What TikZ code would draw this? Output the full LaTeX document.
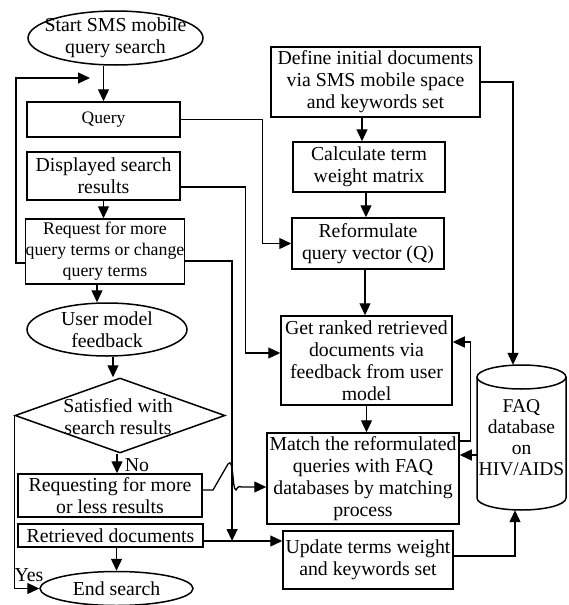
\documentclass[tikz,border=0pt]{standalone}
\usepackage{fontspec}
\setmainfont{Liberation Serif}
\usetikzlibrary{arrows.meta,shapes.geometric}
\begin{document}
\begin{tikzpicture}[x=1pt,y=-1pt,
  txt/.style={inner sep=0pt,align=center,font=\fontsize{19.8}{22}\selectfont},
  box/.style={txt,draw,line width=1.5pt,rectangle},
  oval/.style={draw,line width=1.5pt,ellipse,inner sep=0pt},
  arr/.style={line width=1.3pt,-{Triangle[length=12pt,width=11pt]}},
  ln/.style={line width=1.3pt}]
\path[use as bounding box] (0,0) rectangle (568,605);

% left column
\node[oval,minimum width=175pt,minimum height=54pt] (start) at (115.5,38) {};
\node[txt] (starttxt) at (start) {Start SMS mobile\\query search};
\node[box,minimum width=153pt,minimum height=35pt,font=\fontsize{17.5}{22}\selectfont] (query) at (103.5,119.5) {Query};
\node[box,minimum width=153pt,minimum height=48pt] (disp) at (103.5,176) {Displayed search\\results};
\node[box,minimum width=156pt,minimum height=65pt,font=\fontsize{17.8}{21}\selectfont] (req) at (105,251.5) {Request for more\\query terms or change\\query terms};
\node[oval,minimum width=160pt,minimum height=53pt] (umf) at (107,329.5) {};
\node[txt] (umftxt) at (umf) {User model\\feedback};
\node[draw,line width=1.5pt,diamond,inner sep=0pt,minimum width=210pt,minimum height=75pt] (sat) at (120,415.5) {};
\node[txt] (sattxt) at (118,417) {Satisfied with\\search results};
\node[box,minimum width=184pt,minimum height=43pt] (reqm) at (110,495.5) {Requesting for more\\or less results};
\node[box,minimum width=185pt,minimum height=23pt] (ret) at (110.5,535.5) {Retrieved documents};
\node[oval,minimum width=153pt,minimum height=34pt] (end) at (116.5,588.5) {};
\node[txt] (endtxt) at (end) {End search};

% right column
\node[box,minimum width=209pt,minimum height=70pt] (def) at (375.5,82) {Define initial documents\\via SMS mobile space\\and keywords set};
\node[box,minimum width=152pt,minimum height=50pt] (calc) at (369,167) {Calculate term\\weight matrix};
\node[box,minimum width=152pt,minimum height=51pt] (refq) at (368,243.5) {Reformulate\\query vector (Q)};
\node[box,minimum width=171pt,minimum height=89pt] (rank) at (366.5,360.5) {Get ranked retrieved\\documents via\\feedback from user\\model};
\node[box,minimum width=192pt,minimum height=91pt] (match) at (363,478.5) {Match the reformulated\\queries with FAQ\\databases by matching\\process};
\node[box,minimum width=170pt,minimum height=58pt] (upd) at (368,560) {Update terms weight\\and keywords set};

% database cylinder
\node[txt,minimum width=89pt,minimum height=145pt,font=\fontsize{19.5}{21}\selectfont] (db) at (521.5,437.5) {FAQ\\database\\on\\HIV/AIDS};
\draw[line width=1.5pt] (477,377) -- (477,498) arc[start angle=180,end angle=0,x radius=44.5,y radius=12] -- (566,377);
\draw[line width=1.5pt] (521.5,377) ellipse [x radius=44.5,y radius=12];

% labels
\node[txt] (no) at (137,465) {No};
\node[txt] (yes) at (29,575) {Yes};

% connectors
\coordinate (loopend) at (90,78);
\draw[arr] (start.south -| query.north) -- (query.north);
\draw[arr] ([yshift=-11.5pt]req.west) -- ++(-9,0) |- (loopend);
\draw[arr] (query.east) -- ++(82,0) |- (refq.west);
\draw[arr] (disp.south) -- (disp.south |- req.north);
\draw[arr] ([yshift=-11pt]disp.east) -- ++(65,0) |- ([yshift=7.5pt]rank.west);
\draw[arr] ([xshift=-8pt]req.south) -- ([xshift=-8pt]req.south |- umf.north);
\draw[arr] ([xshift=6pt]umf.south) -- ([xshift=6pt]umf.south |- sat.north);
\draw[arr] ([xshift=-3pt]sat.south) -- ([xshift=-3pt]sat.south |- reqm.north);
\draw[arr] (sat.west) |- (end.west);
\draw[arr] ([xshift=6pt]ret.south) -- ([xshift=6pt]ret.south |- end.north);
\coordinate (retline) at ([yshift=-5.5pt]ret.east);
\draw[arr] (retline) -- (retline -| upd.west);
\draw[arr] ([yshift=-9.5pt]req.east) -- ++(47,0) coordinate (rq) -- (rq |- retline);
\draw[arr] ([yshift=5.5pt]reqm.east) -- (213,490) -- (228,464) .. controls (234,456) and (232,490) .. (236,490) .. controls (238,486) and (240,486) .. (242,487) -- ([yshift=-8.5pt]match.west);
\draw[arr] ([xshift=-13.5pt]def.south) -- ([xshift=-13.5pt]def.south |- calc.north);
\draw[arr] ([xshift=-3pt]calc.south) -- ([xshift=-3pt]calc.south |- refq.north);
\draw[arr] ([xshift=-3pt]refq.south) -- ([xshift=-3pt]refq.south |- rank.north);
\draw[arr] (rank.south) -- (rank.south |- match.north);
\draw[arr] (def.east) -| ([xshift=-8.5pt]db.north);
\draw[arr] ([yshift=4pt]upd.east) -| ([xshift=-6.5pt]db.south);
\draw[arr] ([yshift=37.5pt]match.east) -- ++(11,0) |- ([yshift=18.5pt]rank.east);
\draw[arr] ([yshift=-17.5pt]db.west) -- ([yshift=-17.5pt]db.west -| match.east);
\end{tikzpicture}
\end{document}
